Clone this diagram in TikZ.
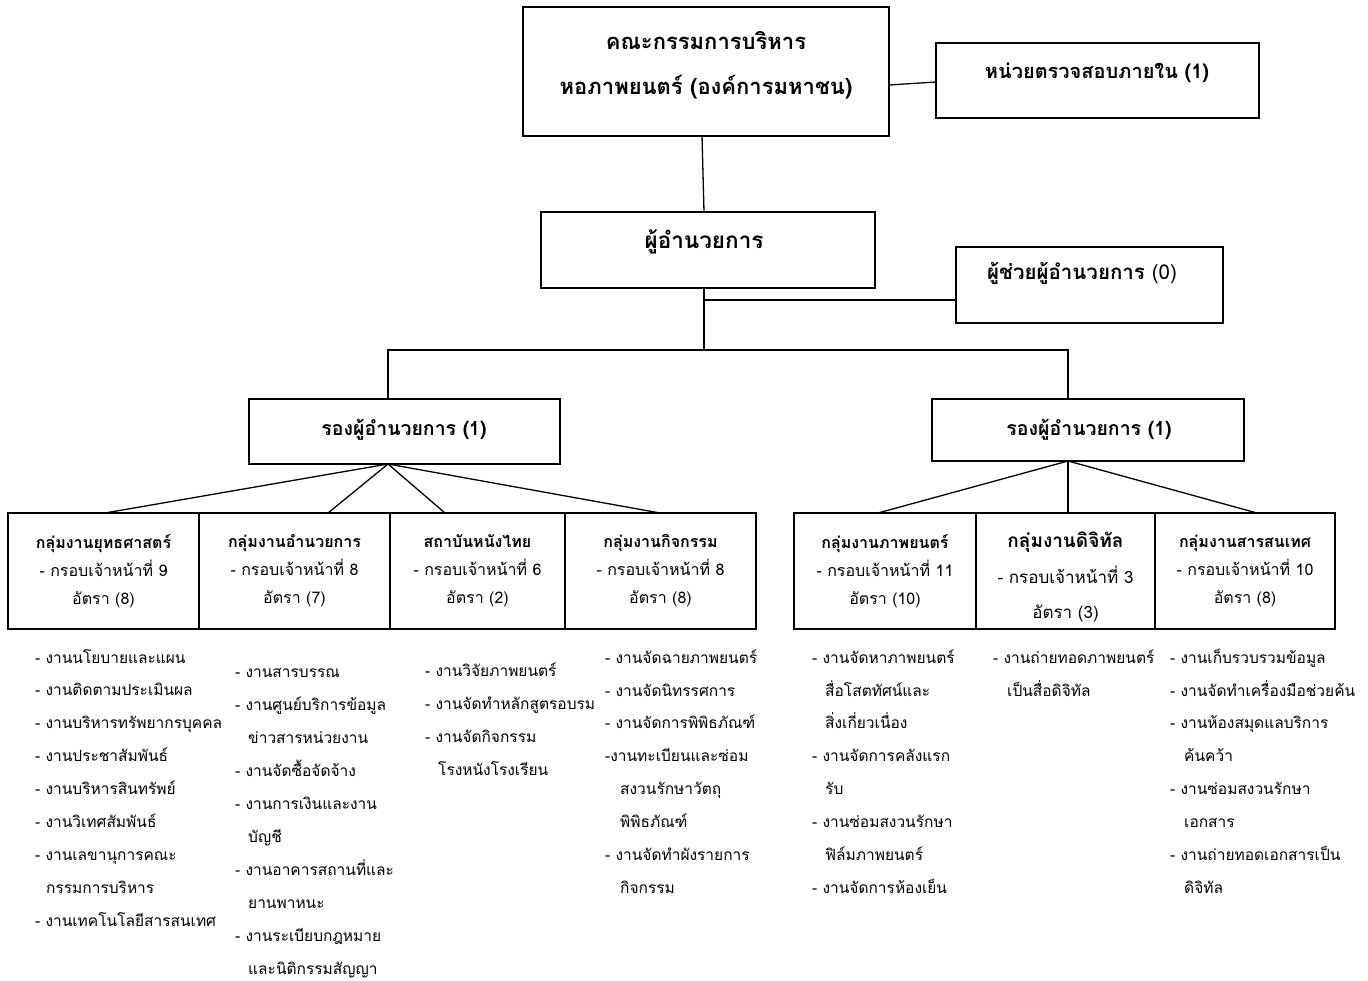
\documentclass[tikz,border=0pt]{standalone}
\usepackage{fontspec}
\newfontfamily\thaif[Script=Thai]{Loma}
\begin{document}
\begin{tikzpicture}[x=1pt,y=-1pt,
  box/.style={draw, line width=1.3pt, inner sep=0pt, outer sep=0pt},
  conn/.style={line width=1.3pt},
  bigt/.style={font=\thaif\bfseries\fontsize{22}{45}\selectfont, align=center},
  midt/.style={font=\thaif\bfseries\fontsize{19.5}{22}\selectfont},
  grp/.style={box, align=center, font=\thaif\fontsize{16}{28}\selectfont},
  item/.style={anchor=base west, inner sep=0pt, font=\thaif\fontsize{15.5}{20}\selectfont}
]
\useasboundingbox (0,0) rectangle (1368,980);

% top level
\node[box, minimum width=366pt, minimum height=129pt] (board) at (706,71.5) {};
\node[bigt] (boardt) at (706,65.5) {คณะกรรมการบริหาร\\หอภาพยนตร์ (องค์การมหาชน)};
\node[box, minimum width=323pt, minimum height=75pt] (audit) at (1097.5,80.5) {};
\node[font=\thaif\bfseries\fontsize{20}{24}\selectfont] (auditt) at (1097,73) {หน่วยตรวจสอบภายใน (1)};

\node[box, minimum width=334pt, minimum height=76pt] (dir) at (708,250) {};
\node[font=\thaif\bfseries\fontsize{22.5}{26}\selectfont] (dirt) at (704,242) {ผู้อำนวยการ};
\node[box, minimum width=267pt, minimum height=76pt] (asst) at (1089.5,285) {};
\node[font=\thaif\fontsize{20.5}{24}\selectfont] (asstt) at (1082,273) {\textbf{ผู้ช่วยผู้อำนวยการ} (0)};

\node[box, minimum width=311pt, minimum height=65pt] (depL) at (404.5,431.5) {};
\node[midt] (depLt) at (404,430) {รองผู้อำนวยการ (1)};
\node[box, minimum width=312pt, minimum height=62pt] (depR) at (1088,430) {};
\node[midt] (depRt) at (1089,430) {รองผู้อำนวยการ (1)};

% groups left
\node[grp, minimum width=191pt, minimum height=116pt] (g1) at (103.5,571) {\textbf{กลุ่มงานยุทธศาสตร์}\\- กรอบเจ้าหน้าที่ 9\\อัตรา (8)};
\node[grp, minimum width=191pt, minimum height=116pt] (g2) at (294.5,571) {\textbf{กลุ่มงานอำนวยการ}\\- กรอบเจ้าหน้าที่ 8\\อัตรา (7)};
\node[grp, minimum width=175pt, minimum height=116pt] (g3) at (477.5,571) {\textbf{สถาบันหนังไทย}\\- กรอบเจ้าหน้าที่ 6\\อัตรา (2)};
\node[grp, minimum width=191pt, minimum height=116pt] (g4) at (660.5,571) {\textbf{กลุ่มงานกิจกรรม}\\- กรอบเจ้าหน้าที่ 8\\อัตรา (8)};
% groups right
\node[grp, minimum width=182pt, minimum height=116pt] (g5) at (885,571) {\textbf{กลุ่มงานภาพยนตร์}\\- กรอบเจ้าหน้าที่ 11\\อัตรา (10)};
\node[box, minimum width=179pt, minimum height=116pt] (g6) at (1065.5,571) {};
\node[align=center, font=\thaif\fontsize{17}{35.5}\selectfont] (g6t) at (1065.5,577) {{\bfseries\fontsize{19}{35.5}\selectfont กลุ่มงานดิจิทัล}\\- กรอบเจ้าหน้าที่ 3\\อัตรา (3)};
\node[grp, minimum width=180pt, minimum height=116pt] (g7) at (1245,571) {\textbf{กลุ่มงานสารสนเทศ}\\- กรอบเจ้าหน้าที่ 10\\อัตรา (8)};

% connectors
\draw[conn] (board.east |- 0,85) -- (audit.west |- 0,82);
\draw[conn] (board.south -| 702,0) -- (dir.north -| 704,0);
\coordinate (jn) at (704,350);
\draw[conn] (dir.south -| 704,0) -- (jn);
\draw[conn] (704,300) -- (asst.west |- 0,300);
\draw[conn] (depL.north -| 388,0) -- (388,350) -- (1068,350) -- (depR.north -| 1068,0);
\coordinate (dl) at (depL.south -| 388,0);
\coordinate (dr) at (depR.south -| 1068,0);
\draw[conn] (dl) -- (g1.north -| 105,0);
\draw[conn] (dl) -- (g2.north -| 328,0);
\draw[conn] (dl) -- (g3.north -| 445,0);
\draw[conn] (dl) -- (g4.north -| 660,0);
\draw[conn] (dr) -- (g5.north -| 878,0);
\draw[conn] (dr) -- (g6.north -| 1068,0);
\draw[conn] (dr) -- (g7.north -| 1257,0);

% lists
\foreach \x/\y/\t [count=\i] in {
  35/657/- งานนโยบายและแผน, 35/689/- งานติดตามประเมินผล, 35/722/- งานบริหารทรัพยากรบุคคล,
  35/755/- งานประชาสัมพันธ์, 35/788/- งานบริหารสินทรัพย์, 35/821/- งานวิเทศสัมพันธ์,
  35/854/- งานเลขานุการคณะ, 46/887/กรรมการบริหาร, 35/920/- งานเทคโนโลยีสารสนเทศ}
  \node[item] (a\i) at (\x,\y+6) {\t};
\foreach \x/\y/\t [count=\i] in {
  235/671/- งานสารบรรณ, 235/704/- งานศูนย์บริการข้อมูล, 248/737/ข่าวสารหน่วยงาน,
  235/770/- งานจัดซื้อจัดจ้าง, 235/803/- งานการเงินและงาน, 248/836/บัญชี,
  235/869/- งานอาคารสถานที่และ, 248/902/ยานพาหนะ, 235/935/- งานระเบียบกฎหมาย,
  248/968/และนิติกรรมสัญญา}
  \node[item] (b\i) at (\x,\y+6) {\t};
\foreach \x/\y/\t [count=\i] in {
  425/670/- งานวิจัยภาพยนตร์, 425/703/- งานจัดทำหลักสูตรอบรม, 425/736/- งานจัดกิจกรรม,
  438/769/โรงหนังโรงเรียน}
  \node[item] (c\i) at (\x,\y+6) {\t};
\foreach \x/\y/\t [count=\i] in {
  605/657/- งานจัดฉายภาพยนตร์, 605/690/- งานจัดนิทรรศการ, 605/722/- งานจัดการพิพิธภัณฑ์,
  605/755/-งานทะเบียนและซ่อม, 620/788/สงวนรักษาวัตถุ, 620/821/พิพิธภัณฑ์,
  605/854/- งานจัดทำผังรายการ, 620/887/กิจกรรม}
  \node[item] (d\i) at (\x,\y+6) {\t};
\foreach \x/\y/\t [count=\i] in {
  812/657/- งานจัดหาภาพยนตร์, 825/690/สื่อโสตทัศน์และ, 825/722/สิ่งเกี่ยวเนื่อง,
  812/755/- งานจัดการคลังแรก, 825/788/รับ, 812/821/- งานซ่อมสงวนรักษา,
  825/854/ฟิล์มภาพยนตร์, 812/887/- งานจัดการห้องเย็น}
  \node[item] (e\i) at (\x,\y+6) {\t};
\foreach \x/\y/\t [count=\i] in {
  993/657/- งานถ่ายทอดภาพยนตร์, 1007/690/เป็นสื่อดิจิทัล}
  \node[item] (f\i) at (\x,\y+6) {\t};
\foreach \x/\y/\t [count=\i] in {
  1170/657/- งานเก็บรวบรวมข้อมูล, 1170/690/- งานจัดทำเครื่องมือช่วยค้น,
  1170/722/- งานห้องสมุดแลบริการ, 1184/755/ค้นคว้า, 1170/788/- งานซ่อมสงวนรักษา,
  1184/821/เอกสาร, 1170/854/- งานถ่ายทอดเอกสารเป็น, 1184/887/ดิจิทัล}
  \node[item] (h\i) at (\x,\y+6) {\t};
\end{tikzpicture}
\end{document}
